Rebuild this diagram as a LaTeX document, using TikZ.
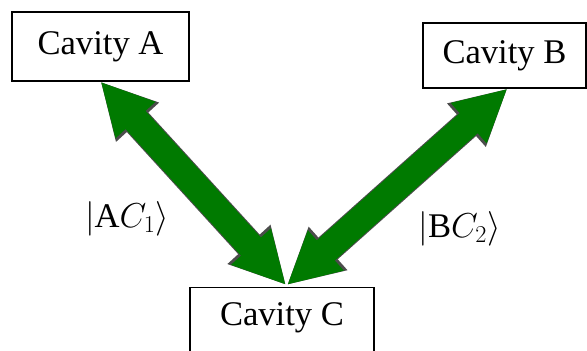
\RequirePackage{fix-cm}
\documentclass[tikz,border=0pt]{standalone}
\usepackage{fontspec}
\setmainfont{Liberation Serif}
\usepackage{xcolor}
\usetikzlibrary{positioning,arrows.meta}
\definecolor{arrowgreen}{RGB}{0,122,0}
\tikzset{cavity/.style={draw,line width=1.2pt,fill=white,inner sep=0pt},
fatarrow/.style={draw=arrowgreen,line width=27pt,
{Triangle[width=50pt,length=52pt]}-{Triangle[width=50pt,length=52pt]},
preaction={draw=black!70,line width=29pt,
{Triangle[width=54pt,length=55pt]}-{Triangle[width=54pt,length=55pt]}}}}
\begin{document}
\begin{tikzpicture}[x=1pt,y=-1pt,font=\fontsize{34.6}{40}\selectfont]
\clip (0,0) rectangle (587,351);
\fill[white] (0,0) rectangle (587,351);
% the three cavities
\node[cavity,minimum width=177pt,minimum height=69pt] (ca) at (100.5,46.5) {Cavity A};
\node[cavity,minimum width=163pt,minimum height=65pt] (cb) at (504.5,55.5) {Cavity B};
\node[cavity,anchor=north,minimum width=184pt,text height=24pt,text depth=40pt,inner ysep=14pt] (cc) at (282,287) {Cavity C};
% couplings
\draw[fatarrow] (ca.south) -- ([xshift=4pt,yshift=2pt]cc.north);
\draw[fatarrow] ([xshift=3pt]cb.south) -- ([xshift=5pt,yshift=2pt]cc.north);
\node[anchor=base] (lac) at (127,227) {$|\mathrm{A}C_1\rangle$};
\node[anchor=base] (lbc) at (459.5,237) {$|\mathrm{B}C_2\rangle$};
\end{tikzpicture}
\end{document}
